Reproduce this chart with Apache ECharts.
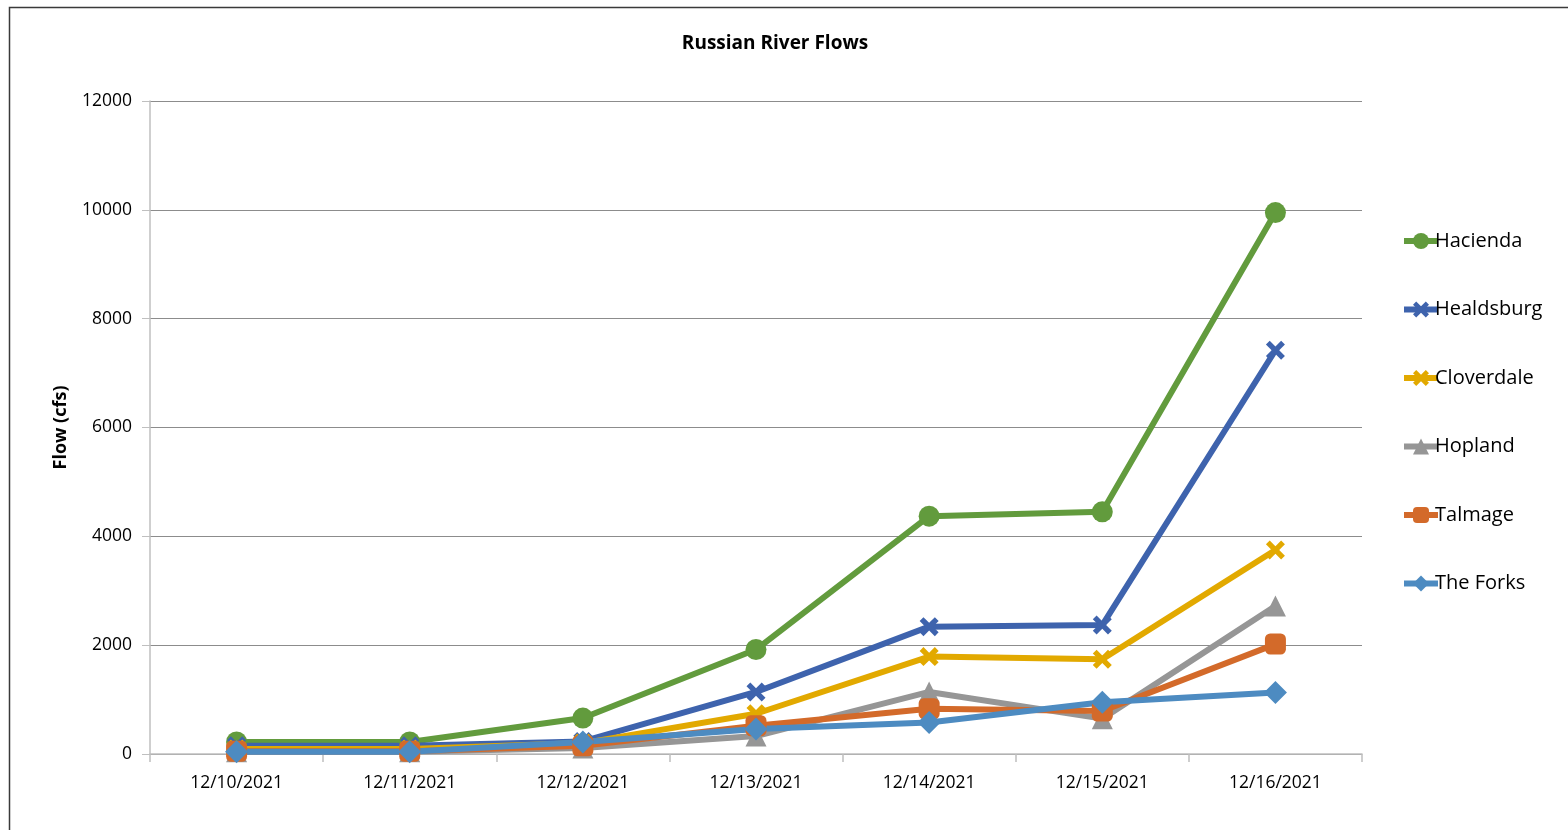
<!DOCTYPE html>
<html><head><meta charset="utf-8">
<script src="https://cdn.jsdelivr.net/npm/echarts@6/dist/echarts.min.js"></script>
<style>html,body{margin:0;padding:0;background:#fff}#c{width:1568px;height:830px}</style>
</head><body><div id="c"></div>
<script>
const categories = ['12/10/2021','12/11/2021','12/12/2021','12/13/2021','12/14/2021','12/15/2021','12/16/2021'];
const hacienda   = [220, 220, 660, 1920, 4370, 4450, 9950];
const healdsburg = [150, 150, 230, 1140, 2340, 2370, 7420];
const cloverdale = [90, 90, 200, 740, 1790, 1740, 3750];
const hopland    = [40, 40, 110, 330, 1140, 650, 2720];
const talmage    = [50, 50, 150, 520, 830, 790, 2020];
const theForks   = [40, 40, 220, 460, 580, 950, 1130];
const yTicks = [0, 2000, 4000, 6000, 8000, 10000, 12000];

const X = 'path://M2,0 L5,3 L8,0 L10,2 L7,5 L10,8 L8,10 L5,7 L2,10 L0,8 L3,5 L0,2 Z';
const FONT = '"Open Sans", "Liberation Sans", sans-serif';

function s(name, data, color, symbol, size) {
  return {
    name, type: 'line', data, symbol, symbolSize: size,
    lineStyle: { width: 6, color }, itemStyle: { color },
    emphasis: { disabled: true }, animation: false
  };
}

const chart = echarts.init(document.getElementById('c'));
chart.setOption({
  backgroundColor: '#fff',
  title: { text: 'Russian River Flows', left: 770, top: 29, textAlign: 'center',
    textStyle: { fontFamily: FONT, fontSize: 19, fontWeight: 'bold', color: '#000' } },
  grid: { left: 150, right: 206, top: 101, bottom: 76 },
  legend: {
    orient: 'vertical', left: 1396, top: 226, itemGap: 48.5, itemWidth: 34, itemHeight: 20,
    lineStyle: { width: 6 },
    textStyle: { fontFamily: FONT, fontSize: 20, color: '#000', padding: [0,0,0,-8] },
    data: ['Hacienda','Healdsburg','Cloverdale','Hopland','Talmage','The Forks']
  },
  xAxis: {
    type: 'category', data: categories, boundaryGap: true,
    axisLine: { lineStyle: { color: '#bfbfbf', width: 1.5 } },
    axisTick: { show: true, length: 8, lineStyle: { color: '#bfbfbf', width: 1.5 } },
    axisLabel: { fontFamily: FONT, fontSize: 17.5, color: '#000', margin: 20 }
  },
  yAxis: {
    type: 'value', min: 0, max: 12000, interval: 2000,
    name: 'Flow (cfs)', nameLocation: 'middle', nameGap: 80, nameRotate: 90,
    nameTextStyle: { fontFamily: FONT, fontSize: 18, fontWeight: 'bold', color: '#000' },
    axisLine: { show: true, lineStyle: { color: '#bfbfbf', width: 1.5 } },
    axisTick: { show: true, length: 8, inside: false, lineStyle: { color: '#bfbfbf' } },
    axisLabel: { fontFamily: FONT, fontSize: 17.5, color: '#000', margin: 18,
      formatter: v => yTicks.includes(v) ? String(v) : '' },
    splitLine: { lineStyle: { color: '#8c8c8c', width: 1 } }
  },
  graphic: [{ type: 'rect', left: 7, top: 5, shape: { width: 1570, height: 840 },
    style: { fill: 'none', stroke: '#3a3a3a', lineWidth: 1.5 }, silent: true, z: 100 }],
  series: [
    s('Hacienda', hacienda, '#629b3d', 'circle', 21),
    s('Healdsburg', healdsburg, '#3e63ad', X, 19),
    s('Cloverdale', cloverdale, '#e2a900', X, 19),
    s('Hopland', hopland, '#969696', 'triangle', 21),
    s('Talmage', talmage, '#d36a2a', 'roundRect', 21),
    s('The Forks', theForks, '#4d8bc1', 'diamond', 23)
  ]
});
</script></body></html>
